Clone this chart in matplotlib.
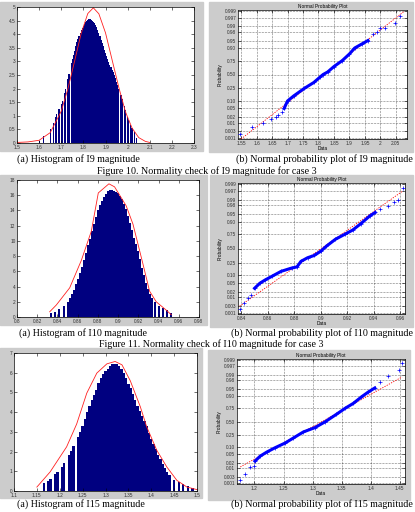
import numpy as np
import matplotlib
matplotlib.use("Agg")
import matplotlib.pyplot as plt
from matplotlib.patches import Rectangle
from matplotlib.ticker import FormatStrFormatter, NullLocator
from statistics import NormalDist

# ---------------- data ----------------
# I9 histogram (bins of equal width, heights)
i9_bin_start, i9_bin_step = 1.600, 0.005
i9_counts = [0.08, 0, 0, 0, 0.25, 0, 0, 0, 0, 0,
             0.5, 0, 0, 0.75, 0, 0.95, 1.05, 0, 1.25, 0,
             1.45, 1.55, 0, 1.85, 2.0, 0, 2.35, 2.55, 0, 2.95,
             3.1, 3.25, 3.4, 3.55, 3.7, 3.82, 3.95, 4.05, 4.15, 4.22,
             4.3, 4.38, 4.45, 4.5, 4.52, 4.55, 4.55, 4.53, 4.5, 4.45,
             4.4, 4.32, 4.25, 4.15, 4.05, 3.92, 3.8, 3.68, 3.55, 3.42,
             3.3, 3.2, 3.08, 2.98, 2.88, 2.8, 2.7, 2.6, 2.5, 2.38,
             2.25, 2.12, 2.0, 0, 1.75, 1.62, 0, 1.35, 1.2, 0,
             0.95, 0.85, 0, 0.65, 0.55, 0, 0.4, 0, 0.2]
i9_fit_x = [1.50, 1.55, 1.60, 1.65, 1.70, 1.73, 1.76, 1.79, 1.82, 1.845,
            1.87, 1.90, 1.93, 1.96, 1.99, 2.02, 2.05, 2.08, 2.10]
i9_fit_y = [0.02, 0.04, 0.10, 0.38, 1.17, 1.99, 3.0, 4.03, 4.76, 4.97,
            4.75, 4.05, 3.05, 2.05, 1.15, 0.55, 0.20, 0.06, 0.02]
i9_hist_xticks = [1.5, 1.6, 1.7, 1.8, 1.9, 2.0, 2.1, 2.2, 2.3]
i9_hist_yticks = [0, 0.5, 1, 1.5, 2, 2.5, 3, 3.5, 4, 4.5, 5]

# I9 normal probability plot
i9_data = [1.546, 1.586, 1.622, 1.646, 1.662, 1.670, 1.681, 1.689, 1.700, 1.720,
           1.754, 1.785, 1.805, 1.815, 1.830, 1.850, 1.877, 1.900, 1.917, 1.940,
           1.960, 1.977, 1.988, 1.999, 2.015, 2.048, 2.064]
i9_prob = [0.002, 0.0054, 0.009, 0.016, 0.021, 0.024, 0.036, 0.05, 0.10, 0.15,
           0.25, 0.35, 0.45, 0.50, 0.55, 0.65, 0.75, 0.84, 0.90, 0.93,
           0.95, 0.974, 0.981, 0.987, 0.988, 0.994, 0.9976]
i9_ref_x = [1.550, 2.075]
i9_ref_p = [0.0009, 0.9988]
i9_prob_xticks = [1.55, 1.6, 1.65, 1.7, 1.75, 1.8, 1.85, 1.9, 1.95, 2.0, 2.05]

# I10 histogram
i10_bin_start, i10_bin_step = 0.834, 0.002
i10_counts = [0.5, 0, 0.7, 0, 1.1, 0, 1.5, 0, 2.0, 2.5,
              3.0, 3.6, 4.3, 5.0, 5.8, 6.6, 7.5, 8.4, 9.4, 10.3,
              11.3, 12.2, 13.2, 14.0, 14.7, 15.3, 15.8, 16.2, 16.5, 16.65,
              16.7, 16.6, 16.45, 16.3, 15.9, 15.5, 14.9, 14.2, 13.3, 12.3,
              11.4, 10.4, 9.6, 8.7, 7.6, 6.5, 5.5, 4.5, 3.7, 3.0,
              2.5, 2.0, 0, 1.5, 0, 1.2, 0, 0.9, 0, 0.5]
i10_fit_x = [0.8323, 0.8389, 0.8521, 0.8636, 0.8735, 0.8804, 0.8909, 0.8965,
             0.9080, 0.9147, 0.9245, 0.9311, 0.9377, 0.9476, 0.9526]
i10_fit_y = [0.68, 1.58, 3.83, 7.43, 11.26, 16.3, 17.5, 17.1,
             14.6, 12.2, 7.0, 3.4, 2.0, 0.9, 0.3]
i10_hist_xticks = [0.8, 0.82, 0.84, 0.86, 0.88, 0.9, 0.92, 0.94, 0.96, 0.98]
i10_hist_yticks = [0, 2, 4, 6, 8, 10, 12, 14, 16, 18]

# I10 normal probability plot
i10_data = [0.8387, 0.842, 0.845, 0.8475, 0.850, 0.854, 0.858, 0.863, 0.870, 0.878,
            0.882, 0.885, 0.890, 0.895, 0.900, 0.904, 0.911, 0.918, 0.924, 0.930,
            0.937, 0.941, 0.945, 0.951, 0.955, 0.958, 0.962]
i10_prob = [0.0021, 0.0044, 0.0087, 0.014, 0.029, 0.049, 0.067, 0.092, 0.138, 0.176,
            0.19, 0.27, 0.33, 0.37, 0.45, 0.54, 0.67, 0.75, 0.81, 0.88,
            0.94, 0.957, 0.97, 0.979, 0.986, 0.99, 0.998]
i10_ref_x = [0.8387, 0.9620]
i10_ref_p = [0.003, 0.997]
i10_prob_xticks = [0.84, 0.86, 0.88, 0.9, 0.92, 0.94, 0.96]

# I15 histogram
i15_bin_start, i15_bin_step = 1.165, 0.005
i15_counts = [0.4, 0, 0.5, 0.6, 0, 0.85, 0.95, 0, 1.2, 1.4,
              0, 1.85, 2.05, 2.3, 0, 2.75, 3.0, 3.3, 3.65, 4.0,
              4.3, 4.6, 4.85, 5.1, 5.5, 5.75, 5.95, 6.1, 6.2, 6.35,
              6.42, 6.45, 6.45, 6.35, 6.2, 6.0, 5.75, 5.45, 5.2, 4.9,
              4.6, 4.3, 4.05, 3.8, 3.55, 3.3, 2.95, 2.65, 2.4, 2.15,
              1.85, 1.6, 1.35, 1.15, 0.95, 0.8, 0, 0.55, 0, 0.45,
              0, 0.35, 0, 0.25, 0, 0.15]
i15_fit_x = [1.150, 1.179, 1.215, 1.237, 1.259, 1.281, 1.303, 1.321, 1.336,
             1.354, 1.376, 1.390, 1.412, 1.434, 1.456, 1.478, 1.500]
i15_fit_y = [0.2, 0.97, 2.24, 3.4, 4.96, 5.98, 6.45, 6.57, 6.4,
             5.6, 4.28, 3.26, 2.07, 1.22, 0.54, 0.2, 0.07]
i15_hist_xticks = [1.1, 1.15, 1.2, 1.25, 1.3, 1.35, 1.4, 1.45, 1.5]
i15_hist_yticks = [0, 1, 2, 3, 4, 5, 6, 7]

# I15 normal probability plot
i15_data = [1.1757, 1.184, 1.1926, 1.200, 1.201, 1.210, 1.221, 1.235, 1.253, 1.267,
            1.284, 1.304, 1.321, 1.341, 1.356, 1.370, 1.384, 1.396, 1.407, 1.416,
            1.430, 1.449, 1.454]
i15_prob = [0.0017, 0.0047, 0.0116, 0.013, 0.024, 0.042, 0.063, 0.094, 0.142, 0.205,
            0.30, 0.38, 0.49, 0.64, 0.745, 0.817, 0.89, 0.93, 0.953, 0.976,
            0.989, 0.9946, 0.9983]
i15_ref_x = [1.1757, 1.454]
i15_ref_p = [0.0116, 0.987]
i15_prob_xticks = [1.2, 1.25, 1.3, 1.35, 1.4, 1.45]

prob_ticks = [0.001, 0.003, 0.01, 0.02, 0.05, 0.10, 0.25, 0.50,
              0.75, 0.90, 0.95, 0.98, 0.99, 0.997, 0.999]
prob_labels = ['0.001', '0.003', '0.01', '0.02', '0.05', '0.10', '0.25', '0.50',
               '0.75', '0.90', '0.95', '0.98', '0.99', '0.997', '0.999']

# ---------------- styling / layout ----------------
W, H = 415, 512
GRAY = '#cccccc'
NAVY = '#000080'
SMALL = 3.4
CAP = 7.2
plt.rcParams['font.family'] = ['Liberation Sans', 'DejaVu Sans']

_nd = NormalDist()
_ppf = np.vectorize(_nd.inv_cdf, otypes=[float])
_cdf = np.vectorize(_nd.cdf, otypes=[float])


def _fwd(p):
    p = np.clip(np.asarray(p, dtype=float), 1e-12, 1 - 1e-12)
    return _ppf(p)


def _inv(z):
    return _cdf(np.asarray(z, dtype=float))


def add_panel(fig, gray_box, ax_box):
    """Gray MATLAB figure background plus an axes, boxes given in pixels."""
    l, t, r, b = gray_box
    fig.add_artist(Rectangle((l / W, 1 - b / H), (r - l) / W, (b - t) / H,
                             transform=fig.transFigure, color=GRAY, zorder=0))
    l, t, r, b = ax_box
    return fig.add_axes([l / W, 1 - b / H, (r - l) / W, (b - t) / H])


def matlab_style(ax):
    ax.set_facecolor('white')
    for s in ax.spines.values():
        s.set_linewidth(0.5)
        s.set_color('black')
    ax.tick_params(direction='in', length=2, width=0.4, labelsize=SMALL,
                   labelcolor='#303030', top=True, right=True, pad=1.2)
    ax.xaxis.set_minor_locator(NullLocator())
    ax.yaxis.set_minor_locator(NullLocator())
    ax.xaxis.set_major_formatter(FormatStrFormatter('%g'))


def draw_hist(ax, start, step, counts, fit_x, fit_y, xticks, yticks):
    centers = start + step * np.arange(len(counts))
    ax.bar(centers, counts, width=step, color=NAVY, linewidth=0)
    ax.plot(fit_x, fit_y, color='#ff2020', lw=0.6)
    ax.set_xlim(xticks[0], xticks[-1])
    ax.set_ylim(yticks[0], yticks[-1])
    ax.set_xticks(xticks)
    ax.set_yticks(yticks)
    matlab_style(ax)
    ax.yaxis.set_major_formatter(FormatStrFormatter('%g'))


def draw_normplot(ax, data, prob, band, ref_x, ref_p, xlim, xticks):
    ax.set_yscale('function', functions=(_fwd, _inv))
    ax.plot(ref_x, ref_p, color='red', lw=0.6, ls=(0, (1.5, 1.5)), zorder=2)
    lo, hi = band
    ax.plot(data[lo:hi], prob[lo:hi], color='blue', lw=2.2, zorder=3)
    ax.plot(data, prob, ls='none', marker='+', ms=3, mew=0.5, color='blue', zorder=3)
    ax.set_xlim(*xlim)
    ax.set_ylim(0.0009, 0.9991)
    ax.set_xticks(xticks)
    ax.set_yticks(prob_ticks)
    ax.set_yticklabels(prob_labels)
    matlab_style(ax)
    ax.grid(True, ls=':', color='black', lw=0.4)
    ax.set_title('Normal Probability Plot', fontsize=SMALL, pad=1.5)
    ax.set_xlabel('Data', fontsize=SMALL, labelpad=0.3)
    ax.set_ylabel('Probability', fontsize=SMALL, labelpad=1.5)


def caption(fig, x, y, text, ha='left'):
    fig.text(x / W, 1 - y / H, text, ha=ha, va='center',
             family=['Liberation Serif', 'DejaVu Serif'], fontsize=CAP)


fig = plt.figure(figsize=(W / 100, H / 100), dpi=100, facecolor='white')

# row 1 - I9
ax = add_panel(fig, (0, 2, 203, 151), (17, 7, 194, 143))
draw_hist(ax, i9_bin_start, i9_bin_step, i9_counts, i9_fit_x, i9_fit_y,
          i9_hist_xticks, i9_hist_yticks)
ax = add_panel(fig, (209, 2, 413, 152), (238, 10, 407, 139))
draw_normplot(ax, i9_data, i9_prob, (7, 21), i9_ref_x, i9_ref_p,
              (1.54, 2.086), i9_prob_xticks)
caption(fig, 17, 159, '(a) Histogram of I9 magnitude')
caption(fig, 413, 159, '(b) Normal probability plot of I9 magnitude', ha='right')
caption(fig, 207, 171, 'Figure 10. Normality check of I9 magnitude for case 3', ha='center')

# row 2 - I10
ax = add_panel(fig, (0, 175, 207, 325), (17, 180, 199, 317))
draw_hist(ax, i10_bin_start, i10_bin_step, i10_counts, i10_fit_x, i10_fit_y,
          i10_hist_xticks, i10_hist_yticks)
ax = add_panel(fig, (210, 175, 413, 327), (238, 183, 405, 314))
draw_normplot(ax, i10_data, i10_prob, (4, 22), i10_ref_x, i10_ref_p,
              (0.8375, 0.9635), i10_prob_xticks)
caption(fig, 19, 333, '(a) Histogram of I10 magnitude')
caption(fig, 413, 333, '(b) Normal probability plot of I10 magnitude', ha='right')
caption(fig, 211, 344, 'Figure 11. Normality check of I10 magnitude for case 3', ha='center')

# row 3 - I15
ax = add_panel(fig, (0, 348, 202, 498), (14, 353, 197, 491))
draw_hist(ax, i15_bin_start, i15_bin_step, i15_counts, i15_fit_x, i15_fit_y,
          i15_hist_xticks, i15_hist_yticks)
ax = add_panel(fig, (208, 350, 410, 500), (237, 359, 405, 484))
draw_normplot(ax, i15_data, i15_prob, (4, 19), i15_ref_x, i15_ref_p,
              (1.17, 1.459), i15_prob_xticks)
caption(fig, 17, 504, '(a) Histogram of I15 magnitude')
caption(fig, 413, 504, '(b) Normal probability plot of I15 magnitude', ha='right')

fig.savefig('out.png', dpi=100, facecolor='white')
